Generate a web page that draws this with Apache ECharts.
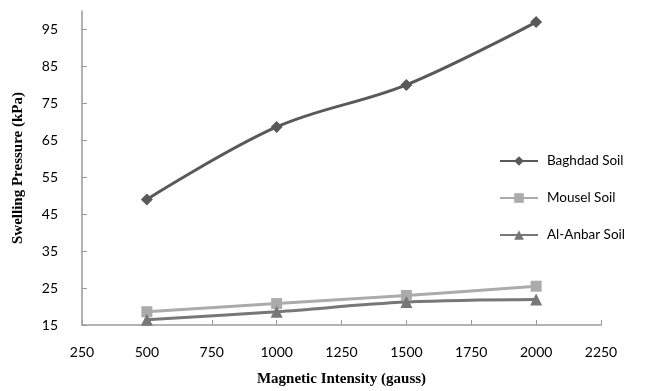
<!DOCTYPE html>
<html>
<head>
<meta charset="utf-8">
<script src="https://cdn.jsdelivr.net/npm/echarts@6/dist/echarts.min.js"></script>
<style>
  html, body { margin: 0; padding: 0; background: #ffffff; }
  #chart { width: 646px; height: 391px; }
</style>
</head>
<body>
<div id="chart"></div>
<script>
// Magnetic intensity (gauss) at which each soil was tested
var intensity = [500, 1000, 1500, 2000];

// Swelling pressure (kPa) per soil
var baghdad = [49, 68.6, 80, 97];
var mousel = [18.6, 20.8, 23, 25.5];
var alAnbar = [16.4, 18.6, 21.2, 21.9];

// Tick values shown on the axes
var yTicks = [15, 25, 35, 45, 55, 65, 75, 85, 95];
var xTicks = [250, 500, 750, 1000, 1250, 1500, 1750, 2000, 2250];

function pairs(xs, ys) {
  return xs.map(function (x, i) { return [x, ys[i]]; });
}

var labelFont = 'Lato, "Open Sans", sans-serif';
var titleFont = '"Liberation Serif", "Times New Roman", serif';
var axisGray = '#9a9a9a';

var chart = echarts.init(document.getElementById('chart'), null, { renderer: 'canvas' });

chart.setOption({
  animation: false,
  backgroundColor: '#ffffff',
  grid: { left: 82, right: 45, top: 11, bottom: 66, containLabel: false, outerBoundsMode: 'none' },
  legend: {
    orient: 'vertical',
    left: 494,
    top: 149,
    itemGap: 23,
    itemWidth: 38,
    itemHeight: 12,
    textStyle: { fontFamily: labelFont, fontSize: 13.5, color: '#000000', padding: [0, 0, 0, 4] },
    data: ['Baghdad Soil', 'Mousel Soil', 'Al-Anbar Soil']
  },
  xAxis: {
    type: 'value',
    min: 250,
    max: 2250,
    interval: 250,
    name: 'Magnetic Intensity (gauss)',
    nameLocation: 'middle',
    nameGap: 47,
    nameTextStyle: { fontFamily: titleFont, fontWeight: 'bold', fontSize: 15, color: '#000000' },
    axisLine: { show: true, lineStyle: { color: axisGray, width: 1.5 } },
    axisTick: { show: true, inside: true, length: 5, lineStyle: { color: axisGray }, customValues: xTicks },
    axisLabel: {
      fontFamily: labelFont, fontSize: 14, color: '#000000', margin: 20, customValues: xTicks,
      formatter: function (v) { return String(v); }
    },
    splitLine: { show: false }
  },
  yAxis: {
    type: 'value',
    min: 15,
    max: 100,
    name: 'Swelling Pressure (kPa)',
    nameLocation: 'middle',
    nameGap: 56,
    nameTextStyle: { fontFamily: titleFont, fontWeight: 'bold', fontSize: 15, color: '#000000' },
    axisLine: { show: true, lineStyle: { color: axisGray, width: 1.5 } },
    axisTick: { show: true, inside: true, length: 5, lineStyle: { color: axisGray }, customValues: yTicks },
    axisLabel: {
      fontFamily: labelFont, fontSize: 14, color: '#000000', margin: 24, customValues: yTicks,
      formatter: function (v) { return String(v); }
    },
    splitLine: { show: false }
  },
  series: [
    {
      name: 'Baghdad Soil',
      type: 'line',
      smooth: 0.35,
      data: pairs(intensity, baghdad),
      symbol: 'diamond',
      symbolSize: 12,
      lineStyle: { color: '#595959', width: 3 },
      itemStyle: { color: '#595959' }
    },
    {
      name: 'Mousel Soil',
      type: 'line',
      smooth: 0.35,
      data: pairs(intensity, mousel),
      symbol: 'rect',
      symbolSize: 11,
      lineStyle: { color: '#ababab', width: 3 },
      itemStyle: { color: '#ababab' }
    },
    {
      name: 'Al-Anbar Soil',
      type: 'line',
      smooth: 0.35,
      data: pairs(intensity, alAnbar),
      symbol: 'triangle',
      symbolSize: 12,
      lineStyle: { color: '#777777', width: 3 },
      itemStyle: { color: '#777777' }
    }
  ]
});
</script>
</body>
</html>
